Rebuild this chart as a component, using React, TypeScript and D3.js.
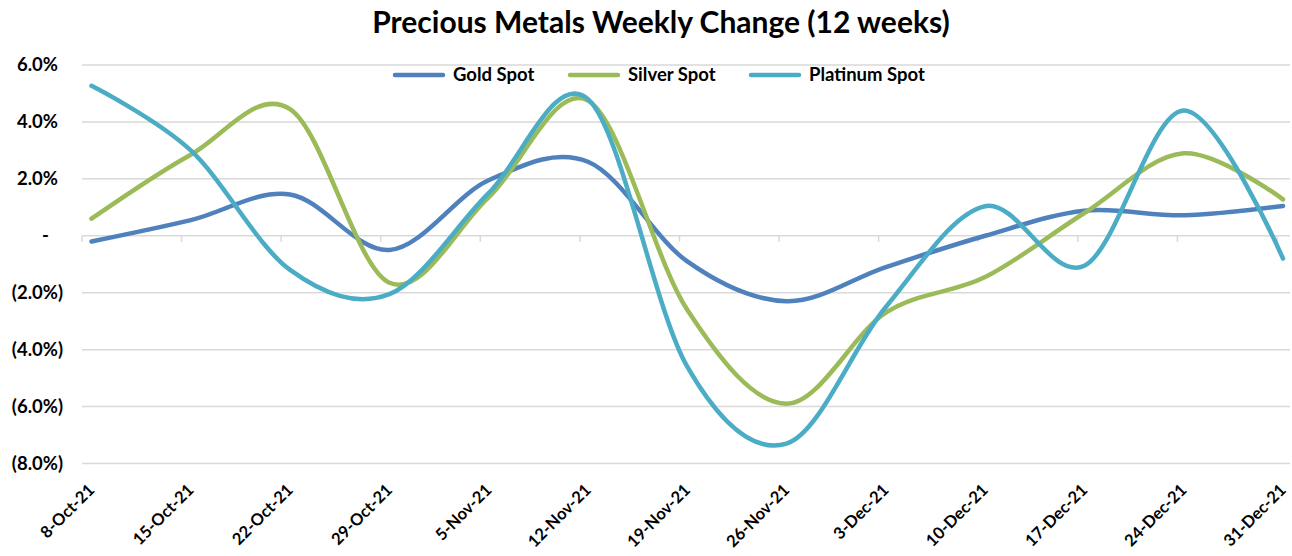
import React from "react";
import * as d3 from "d3";

const categories = ["8-Oct-21","15-Oct-21","22-Oct-21","29-Oct-21","5-Nov-21","12-Nov-21","19-Nov-21","26-Nov-21","3-Dec-21","10-Dec-21","17-Dec-21","24-Dec-21","31-Dec-21"];
const goldSpot = [-0.2, 0.55, 1.45, -0.5, 1.95, 2.6, -0.9, -2.3, -1.1, 0.0, 0.88, 0.72, 1.05];
const silverSpot = [0.6, 2.85, 4.45, -1.65, 1.35, 4.75, -2.6, -5.9, -2.7, -1.45, 0.8, 2.9, 1.28];
const platinumSpot = [5.27, 3.0, -1.2, -2.05, 1.5, 4.8, -4.6, -7.3, -2.5, 1.04, -1.05, 4.4, -0.8];
const yTicks = [6, 4, 2, 0, -2, -4, -6, -8];
const seriesNames = ["Gold Spot", "Silver Spot", "Platinum Spot"];
const seriesColors = ["#4F81BD", "#9BBB59", "#4BACC6"];

const W = 1292, H = 556;
const FONT = "Lato, 'Open Sans', sans-serif";

function fmt(v: number) {
  if (v === 0) return "-";
  if (v < 0) return `(${Math.abs(v).toFixed(1)}%)`;
  return `${v.toFixed(1)}%`;
}

export default function App() {
  const y = d3.scaleLinear().domain([-8, 6]).range([463.5, 65]);
  const xLine = d3.scalePoint<string>().domain(categories).range([91.5, 1283]);
  const xTick = d3.scalePoint<string>().domain(categories).range([82, 1277]);
  const line = d3.line<number>()
    .x((_, i) => xLine(categories[i]) as number)
    .y((d) => y(d))
    .curve(d3.curveCardinal.tension(0));
  const series = [goldSpot, silverSpot, platinumSpot];
  const plotLeft = 82, plotRight = 1290;
  const legendX = [395, 570, 751];

  return (
    <svg width={W} height={H} style={{ position: "absolute", left: 0, top: 0, background: "#fff" }} fontFamily={FONT}>
      <text x={661} y={33} textAnchor="middle" fontSize={30} fontWeight={700} fill="#000">
        Precious Metals Weekly Change (12 weeks)
      </text>
      {yTicks.map((t) => (
        <g key={t}>
          <line x1={plotLeft} x2={plotRight} y1={y(t)} y2={y(t)} stroke="#D9D9D9" strokeWidth={1.5} />
          <text
            x={t === 0 ? 49 : t < 0 ? 63 : 58}
            y={y(t)}
            dy="0.35em"
            textAnchor="end"
            fontSize={18.5}
            fontWeight={700}
            fill="#000"
          >
            {fmt(t)}
          </text>
        </g>
      ))}
      {categories.map((c) => (
        <line key={c} x1={xTick(c)} x2={xTick(c)} y1={y(0)} y2={y(0) + 6} stroke="#D9D9D9" strokeWidth={1.5} />
      ))}
      {categories.map((c) => {
        const ax = (xLine(c) as number) + 4;
        const ay = 491;
        return (
          <text key={c} x={ax} y={ay} transform={`rotate(-45 ${ax} ${ay})`} textAnchor="end" fontSize={16.5} fontWeight={700} fill="#000">
            {c}
          </text>
        );
      })}
      {series.map((s, i) => (
        <path key={i} d={line(s) || ""} fill="none" stroke={seriesColors[i]} strokeWidth={4.5} strokeLinecap="round" strokeLinejoin="round" />
      ))}
      {seriesNames.map((n, i) => (
        <g key={n}>
          <line x1={legendX[i]} x2={legendX[i] + 48} y1={75} y2={75} stroke={seriesColors[i]} strokeWidth={4.5} strokeLinecap="round" />
          <text x={legendX[i] + 58} y={75} dy="0.35em" fontSize={18.5} fontWeight={700} fill="#000">{n}</text>
        </g>
      ))}
    </svg>
  );
}
